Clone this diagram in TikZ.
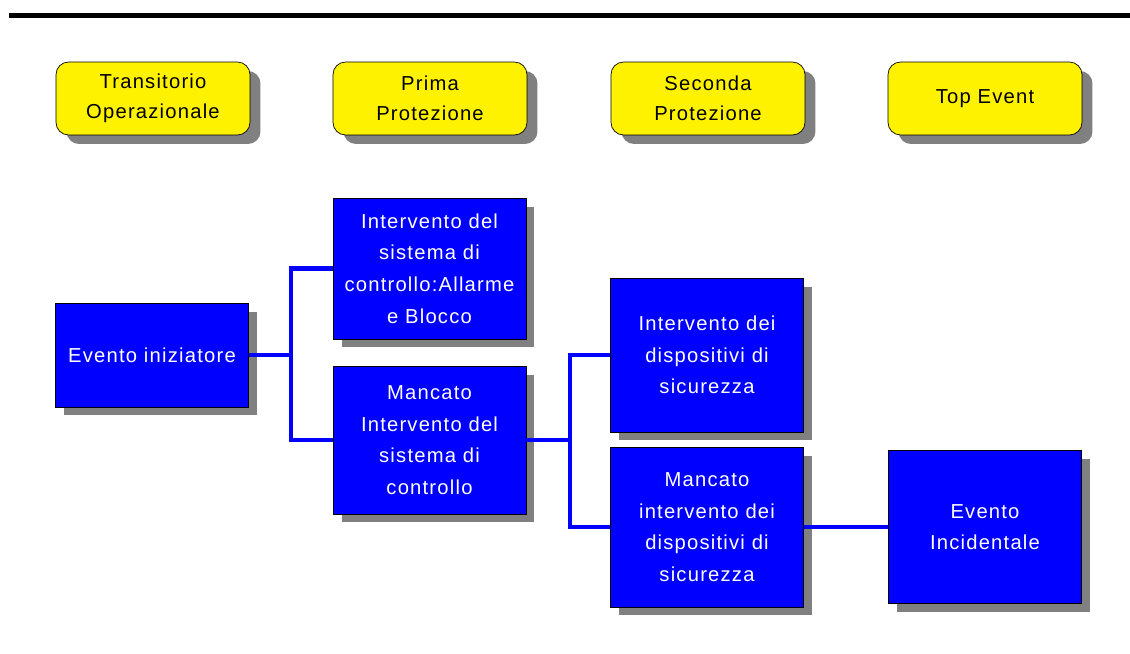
\documentclass[tikz,border=0pt]{standalone}
\usepackage{fontspec}
\setmainfont{Liberation Sans}[LetterSpace=6]
\usetikzlibrary{shadows}

\begin{document}
\begin{tikzpicture}[x=0.02cm,y=-0.02cm,
  phase/.style={rounded corners=0.25cm,draw=black,fill=yellow,text=black,
    minimum width=3.88cm,minimum height=1.46cm,inner sep=0pt,align=center,
    font=\fontsize{11.5}{17}\selectfont,
    drop shadow={shadow xshift=0.21cm,shadow yshift=-0.18cm,fill=gray,opacity=1}},
  event/.style={draw=black,fill=blue,text=white,
    minimum width=3.86cm,inner sep=0pt,align=center,
    font=\fontsize{11.5}{18}\selectfont,
    drop shadow={shadow xshift=0.17cm,shadow yshift=-0.17cm,fill=gray,opacity=1}},
  link/.style={draw=blue,line width=0.09cm}]
\useasboundingbox (0,0) rectangle (1130,653);
\draw[line width=0.1cm] (9,15) -- (1130,15);
% fasi
\node[phase] (p0) at (153,98.5) {Transitorio\\Operazionale};
\node[phase] (p1) at (430,98.5) {Prima\\Protezione};
\node[phase] (p2) at (708,98.5) {Seconda\\Protezione};
\node[phase] (p3) at (985,98.5) {Top Event};
% eventi
\node[event,minimum height=2.08cm] (ev) at (152,355) {Evento iniziatore};
\node[event,minimum height=2.82cm] (isc) at (429.5,268.5) {Intervento del\\sistema di\\controllo:Allarme\\e Blocco};
\node[event,minimum height=2.96cm] (msc) at (429.5,440) {Mancato\\Intervento del\\sistema di\\controllo};
\node[event,minimum height=3.08cm] (idd) at (707,355) {Intervento dei\\dispositivi di\\sicurezza};
\node[event,minimum height=3.2cm] (mdd) at (707,527) {Mancato\\intervento dei\\dispositivi di\\sicurezza};
\node[event,minimum height=3.06cm] (ei) at (985,527) {Evento\\Incidentale};
\coordinate (j1) at (291,355);
\coordinate (j2) at (570,440);
\draw[link] (ev.east) -- (j1) |- (isc.west);
\draw[link] (j1) |- (msc.west);
\draw[link] (msc.east) -- (j2) |- (idd.west);
\draw[link] (j2) |- (mdd.west);
\draw[link] (mdd.east) -- (ei.west);
\end{tikzpicture}
\end{document}
